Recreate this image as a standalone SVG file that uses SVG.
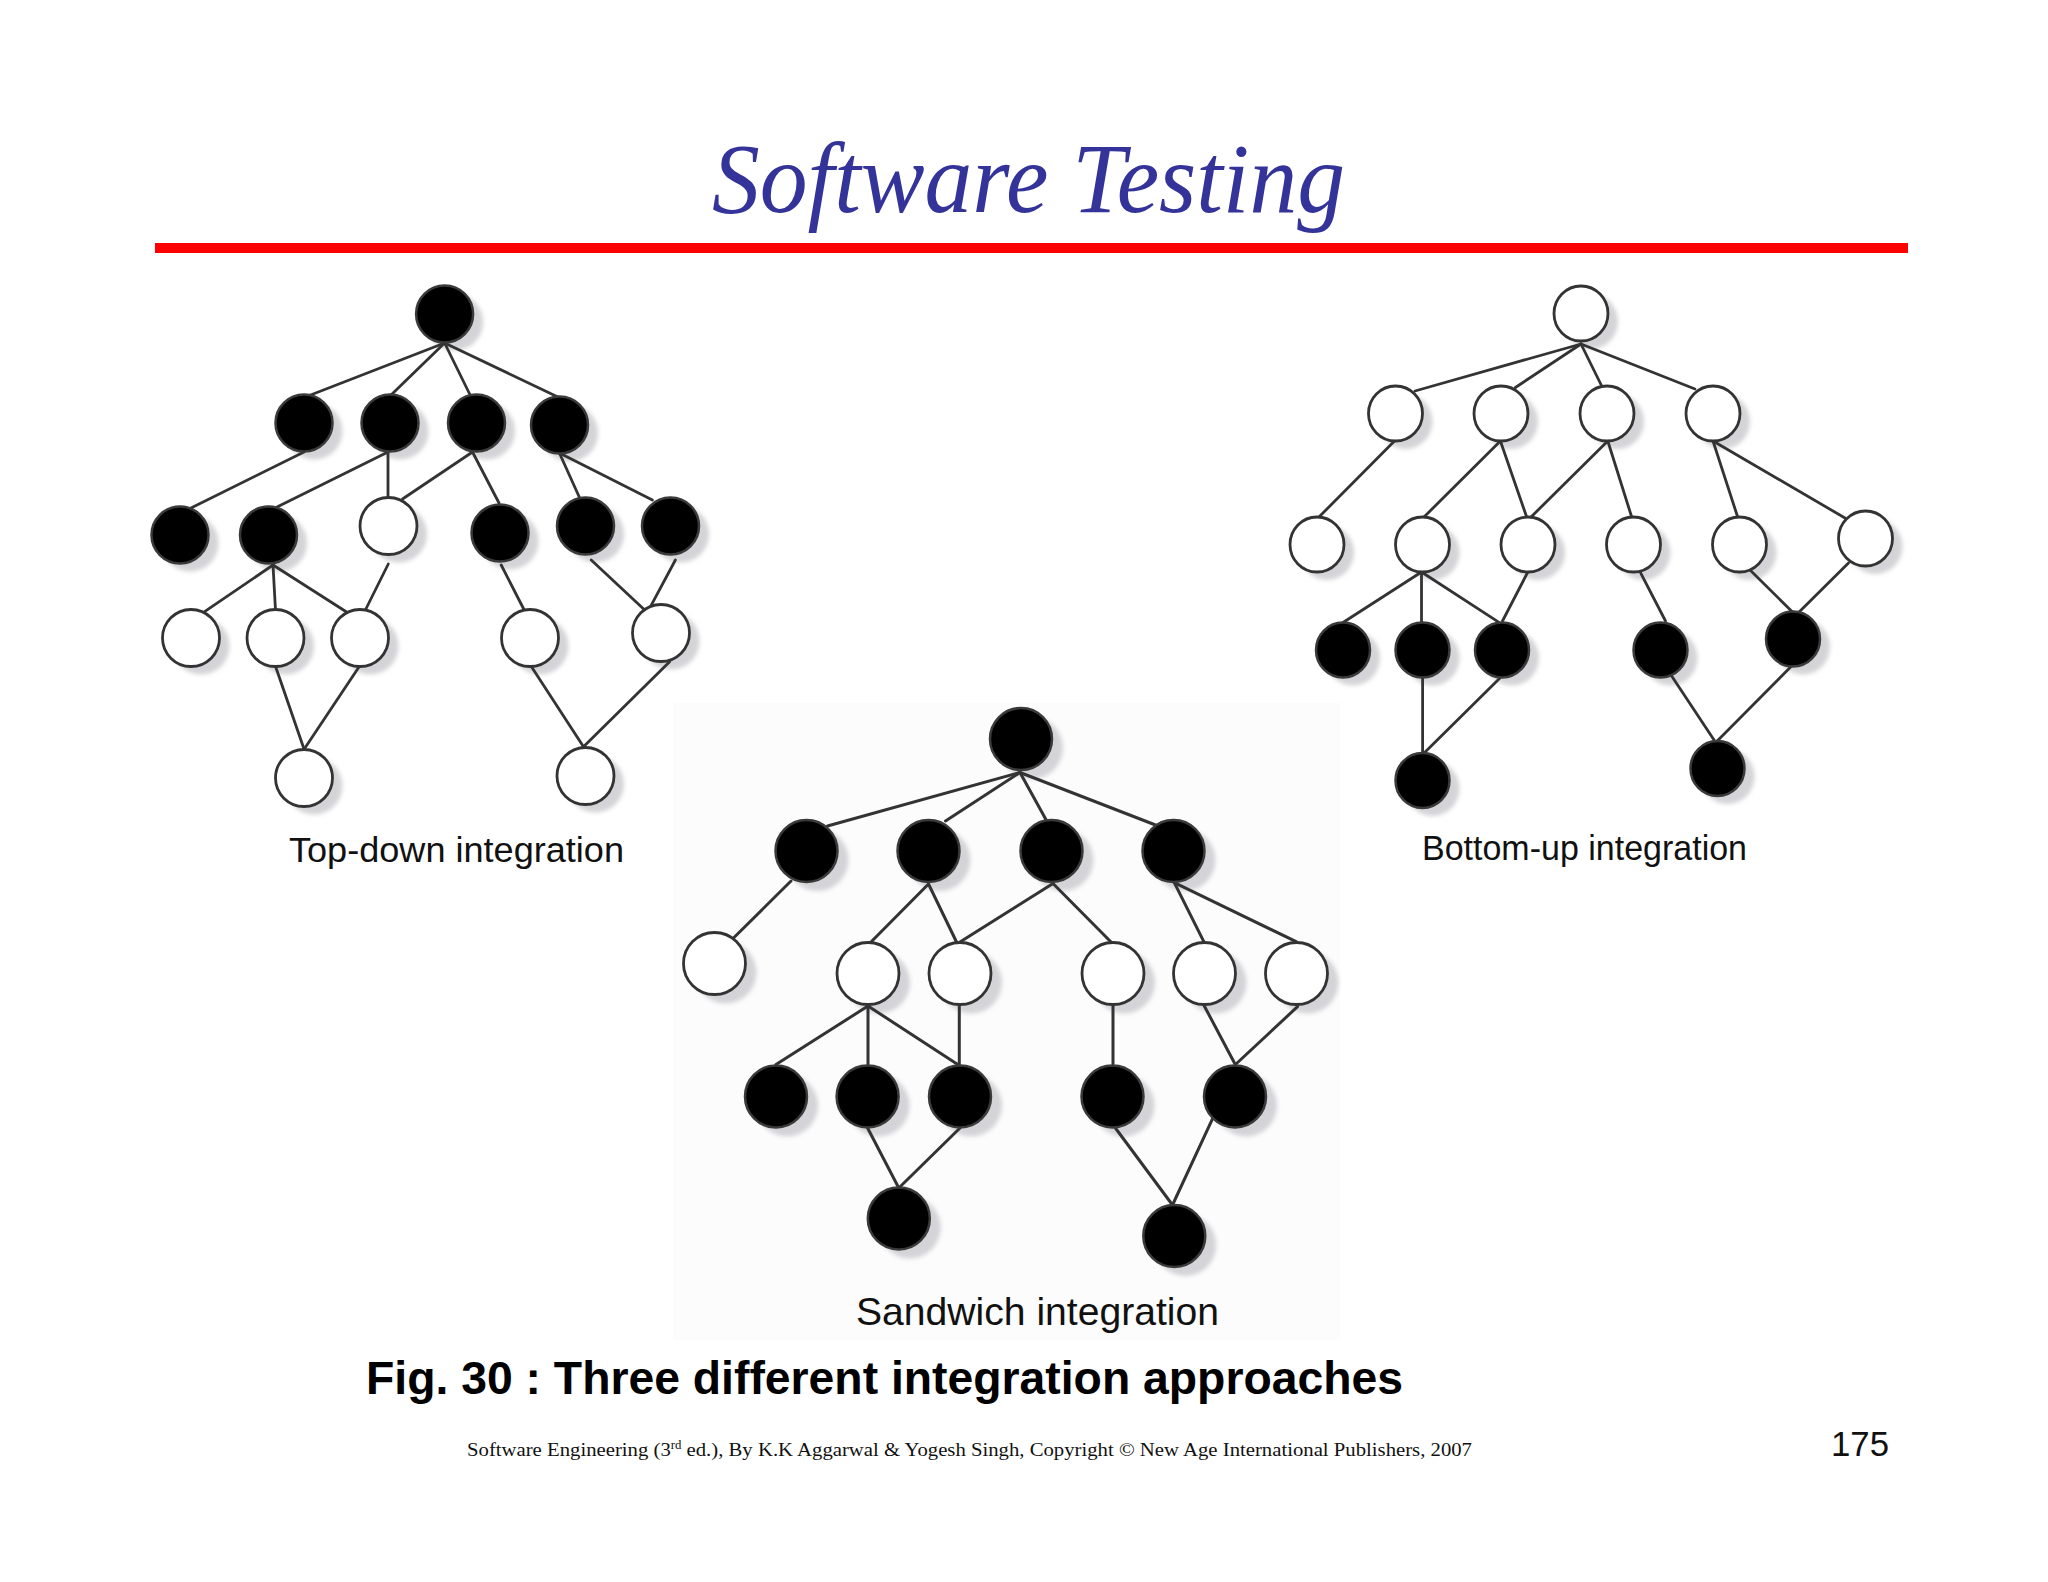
<svg xmlns="http://www.w3.org/2000/svg" width="2048" height="1582" viewBox="0 0 2048 1582">
<style>
.e{stroke:#333;stroke-width:2.8;fill:none;stroke-linecap:round}
.sw .e, .e.s{stroke-width:3}
.b{fill:#000;stroke:#3a3a3a;stroke-width:2.5}
.w{fill:#fff;stroke:#333;stroke-width:2.8}
.sh{fill:#d4d4d8;filter:url(#blur)}
.lbl{font-family:"Liberation Sans",Arial,sans-serif;fill:#111}
</style>
<defs>
<filter id="blur" x="-30%" y="-30%" width="160%" height="160%"><feGaussianBlur stdDeviation="2"/></filter>
</defs>
<rect width="2048" height="1582" fill="#fff"/>
<rect x="673" y="703" width="667" height="637" fill="#fcfcfd"/>

<text x="712" y="212" font-family="'Liberation Serif','DejaVu Serif',serif" font-style="italic" font-size="100" fill="#333399" textLength="633" lengthAdjust="spacingAndGlyphs">Software Testing</text>
<rect x="155" y="243" width="1753" height="10" fill="#ff0000"/>

<!-- shadows -->
<g id="shadows">
<g transform="translate(10,8)">
<ellipse class="sh" cx="444.6" cy="314" rx="28.5" ry="28.5"/>
<ellipse class="sh" cx="304" cy="423" rx="28.5" ry="28.5"/>
<ellipse class="sh" cx="390" cy="423" rx="28.5" ry="28.5"/>
<ellipse class="sh" cx="476.5" cy="423" rx="28.5" ry="28.5"/>
<ellipse class="sh" cx="559.5" cy="425" rx="28.5" ry="28.5"/>
<ellipse class="sh" cx="180" cy="535" rx="28.5" ry="28.5"/>
<ellipse class="sh" cx="268.5" cy="535" rx="28.5" ry="28.5"/>
<ellipse class="sh" cx="388.5" cy="526" rx="28.5" ry="28.5"/>
<ellipse class="sh" cx="500" cy="533" rx="28.5" ry="28.5"/>
<ellipse class="sh" cx="585.5" cy="526" rx="28.5" ry="28.5"/>
<ellipse class="sh" cx="670.5" cy="526" rx="28.5" ry="28.5"/>
<ellipse class="sh" cx="191" cy="638" rx="28.5" ry="28.5"/>
<ellipse class="sh" cx="275.5" cy="638" rx="28.5" ry="28.5"/>
<ellipse class="sh" cx="360" cy="638" rx="28.5" ry="28.5"/>
<ellipse class="sh" cx="530" cy="638" rx="28.5" ry="28.5"/>
<ellipse class="sh" cx="661" cy="633" rx="28.5" ry="28.5"/>
<ellipse class="sh" cx="304" cy="778" rx="28.5" ry="28.5"/>
<ellipse class="sh" cx="585.5" cy="776" rx="28.5" ry="28.5"/>

<ellipse class="sh" cx="1581" cy="313.5" rx="27" ry="27.5"/>
<ellipse class="sh" cx="1395.5" cy="413.5" rx="27" ry="27.5"/>
<ellipse class="sh" cx="1501" cy="413.5" rx="27" ry="27.5"/>
<ellipse class="sh" cx="1607" cy="413.5" rx="27" ry="27.5"/>
<ellipse class="sh" cx="1713" cy="413.5" rx="27" ry="27.5"/>
<ellipse class="sh" cx="1317" cy="544.5" rx="27" ry="27.5"/>
<ellipse class="sh" cx="1422.5" cy="544.5" rx="27" ry="27.5"/>
<ellipse class="sh" cx="1528" cy="544.5" rx="27" ry="27.5"/>
<ellipse class="sh" cx="1633.5" cy="544.5" rx="27" ry="27.5"/>
<ellipse class="sh" cx="1739.5" cy="544.5" rx="27" ry="27.5"/>
<ellipse class="sh" cx="1865.5" cy="538.5" rx="27" ry="27.5"/>
<ellipse class="sh" cx="1343" cy="650" rx="27" ry="27.5"/>
<ellipse class="sh" cx="1422.5" cy="650" rx="27" ry="27.5"/>
<ellipse class="sh" cx="1502" cy="650" rx="27" ry="27.5"/>
<ellipse class="sh" cx="1660.5" cy="650" rx="27" ry="27.5"/>
<ellipse class="sh" cx="1793" cy="639" rx="27" ry="27.5"/>
<ellipse class="sh" cx="1422.5" cy="780.5" rx="27" ry="27.5"/>
<ellipse class="sh" cx="1717.5" cy="768.5" rx="27" ry="27.5"/>
</g>
<g transform="translate(11,9)">
<ellipse class="sh" cx="1021" cy="739" rx="31" ry="31"/>
<ellipse class="sh" cx="806.5" cy="851" rx="31" ry="31"/>
<ellipse class="sh" cx="928.5" cy="851" rx="31" ry="31"/>
<ellipse class="sh" cx="1051.5" cy="851" rx="31" ry="31"/>
<ellipse class="sh" cx="1173.5" cy="851" rx="31" ry="31"/>
<ellipse class="sh" cx="714.5" cy="963.5" rx="31" ry="31"/>
<ellipse class="sh" cx="868" cy="973.5" rx="31" ry="31"/>
<ellipse class="sh" cx="960" cy="973.5" rx="31" ry="31"/>
<ellipse class="sh" cx="1113" cy="973.5" rx="31" ry="31"/>
<ellipse class="sh" cx="1204.5" cy="973.5" rx="31" ry="31"/>
<ellipse class="sh" cx="1296.5" cy="973.5" rx="31" ry="31"/>
<ellipse class="sh" cx="776" cy="1096.5" rx="31" ry="31"/>
<ellipse class="sh" cx="867.6" cy="1096.5" rx="31" ry="31"/>
<ellipse class="sh" cx="960" cy="1096.5" rx="31" ry="31"/>
<ellipse class="sh" cx="1112.5" cy="1096.5" rx="31" ry="31"/>
<ellipse class="sh" cx="1235" cy="1096.5" rx="31" ry="31"/>
<ellipse class="sh" cx="898.8" cy="1218.5" rx="31" ry="31"/>
<ellipse class="sh" cx="1174.3" cy="1236" rx="31" ry="31"/>
</g>
</g>

<!-- connectors -->
<g id="connectors">
<g id="td-edges">
<line class="e" x1="444.6" y1="343" x2="308" y2="396"/>
<line class="e" x1="444.6" y1="343" x2="390" y2="396"/>
<line class="e" x1="444.6" y1="343" x2="470.6" y2="396"/>
<line class="e" x1="444.6" y1="343" x2="557.9" y2="397"/>
<line class="e" x1="304" y1="452" x2="191" y2="508"/>
<line class="e" x1="388" y1="452" x2="277" y2="507"/>
<line class="e" x1="388" y1="452" x2="388" y2="498"/>
<line class="e" x1="472.5" y1="452" x2="402.5" y2="499"/>
<line class="e" x1="472.5" y1="452" x2="499" y2="503"/>
<line class="e" x1="559.4" y1="453" x2="579.7" y2="498"/>
<line class="e" x1="559.4" y1="453" x2="652.4" y2="500"/>
<line class="e" x1="273" y1="565" x2="204.6" y2="611.7"/>
<line class="e" x1="273" y1="565" x2="275.4" y2="608.3"/>
<line class="e" x1="273" y1="565" x2="346.2" y2="611.7"/>
<line class="e" x1="388.3" y1="564" x2="365.4" y2="610"/>
<line class="e" x1="501.2" y1="565" x2="524.2" y2="610"/>
<line class="e" x1="591.2" y1="560" x2="644.7" y2="610"/>
<line class="e" x1="675.4" y1="560" x2="650.5" y2="606.7"/>
<line class="e" x1="275.4" y1="666" x2="304.1" y2="749.3"/>
<line class="e" x1="359.6" y1="666" x2="304.1" y2="749.3"/>
<line class="e" x1="531" y1="666" x2="583.5" y2="746.7"/>
<line class="e" x1="669.6" y1="661.7" x2="583.5" y2="746.7"/>
</g>
<g id="bu-edges">
<line class="e" x1="1581" y1="344" x2="1415" y2="391"/>
<line class="e" x1="1581" y1="344" x2="1515.4" y2="387.5"/>
<line class="e" x1="1581" y1="344" x2="1601.7" y2="386"/>
<line class="e" x1="1581" y1="344" x2="1695" y2="389"/>
<line class="e" x1="1394.5" y1="441" x2="1318" y2="518"/>
<line class="e" x1="1500.4" y1="441" x2="1423" y2="518"/>
<line class="e" x1="1500.4" y1="441" x2="1527" y2="518"/>
<line class="e" x1="1607.8" y1="441" x2="1530" y2="518"/>
<line class="e" x1="1607.8" y1="441" x2="1632" y2="518"/>
<line class="e" x1="1713" y1="441" x2="1738" y2="518"/>
<line class="e" x1="1713" y1="441" x2="1845" y2="518"/>
<line class="e" x1="1421.5" y1="572" x2="1343.4" y2="622.3"/>
<line class="e" x1="1421.5" y1="572" x2="1421.5" y2="622.3"/>
<line class="e" x1="1421.5" y1="572" x2="1499" y2="622.3"/>
<line class="e" x1="1527.5" y1="572.7" x2="1502.5" y2="621"/>
<line class="e" x1="1640.5" y1="572.7" x2="1665.5" y2="621"/>
<line class="e" x1="1750" y1="570" x2="1793" y2="612.5"/>
<line class="e" x1="1848.5" y1="563" x2="1798.6" y2="612.5"/>
<line class="e" x1="1422.6" y1="678" x2="1422.6" y2="754.5"/>
<line class="e" x1="1500" y1="678" x2="1422.6" y2="754.5"/>
<line class="e" x1="1671" y1="675" x2="1715.7" y2="742.5"/>
<line class="e" x1="1791.6" y1="666" x2="1715.7" y2="742.5"/>
</g>
<g id="sw-edges">
<line class="e s" x1="1020" y1="772.5" x2="827.5" y2="826"/>
<line class="e s" x1="1020" y1="772.5" x2="945.5" y2="821"/>
<line class="e s" x1="1020" y1="772.5" x2="1046.2" y2="820"/>
<line class="e s" x1="1020" y1="772.5" x2="1155.5" y2="825"/>
<line class="e s" x1="791" y1="881" x2="734" y2="937.5"/>
<line class="e s" x1="928.5" y1="884" x2="870" y2="943"/>
<line class="e s" x1="928.5" y1="884" x2="957" y2="943"/>
<line class="e s" x1="1053" y1="883.5" x2="960" y2="942"/>
<line class="e s" x1="1053" y1="883.5" x2="1111" y2="942"/>
<line class="e s" x1="1174.3" y1="882.7" x2="1203.8" y2="941.7"/>
<line class="e s" x1="1174.3" y1="882.7" x2="1296.2" y2="941.7"/>
<line class="e s" x1="868" y1="1006" x2="776" y2="1064.5"/>
<line class="e s" x1="868" y1="1006" x2="868" y2="1064"/>
<line class="e s" x1="868" y1="1006" x2="957" y2="1064"/>
<line class="e s" x1="959.3" y1="1005" x2="959.3" y2="1064"/>
<line class="e s" x1="1113" y1="1004" x2="1113" y2="1064"/>
<line class="e s" x1="1203.8" y1="1005" x2="1235" y2="1064"/>
<line class="e s" x1="1297.5" y1="1006.7" x2="1236" y2="1064"/>
<line class="e s" x1="867.6" y1="1128" x2="898.8" y2="1188"/>
<line class="e s" x1="960" y1="1128" x2="898.8" y2="1188"/>
<line class="e s" x1="1115.4" y1="1128" x2="1172.5" y2="1205"/>
<line class="e s" x1="1212.7" y1="1118.3" x2="1172.5" y2="1205"/>
</g>
</g>

<!-- Top-down nodes -->
<g id="td-root"><ellipse class="b" cx="444.6" cy="314" rx="28.5" ry="28.5"/></g>
<g id="td-a1"><ellipse class="b" cx="304" cy="423" rx="28.5" ry="28.5"/></g>
<g id="td-a2"><ellipse class="b" cx="390" cy="423" rx="28.5" ry="28.5"/></g>
<g id="td-a3"><ellipse class="b" cx="476.5" cy="423" rx="28.5" ry="28.5"/></g>
<g id="td-a4"><ellipse class="b" cx="559.5" cy="425" rx="28.5" ry="28.5"/></g>
<g id="td-b1"><ellipse class="b" cx="180" cy="535" rx="28.5" ry="28.5"/></g>
<g id="td-b2"><ellipse class="b" cx="268.5" cy="535" rx="28.5" ry="28.5"/></g>
<g id="td-b3"><ellipse class="w" cx="388.5" cy="526" rx="28.5" ry="28.5"/></g>
<g id="td-b4"><ellipse class="b" cx="500" cy="533" rx="28.5" ry="28.5"/></g>
<g id="td-b5"><ellipse class="b" cx="585.5" cy="526" rx="28.5" ry="28.5"/></g>
<g id="td-b6"><ellipse class="b" cx="670.5" cy="526" rx="28.5" ry="28.5"/></g>
<g id="td-c1"><ellipse class="w" cx="191" cy="638" rx="28.5" ry="28.5"/></g>
<g id="td-c2"><ellipse class="w" cx="275.5" cy="638" rx="28.5" ry="28.5"/></g>
<g id="td-c3"><ellipse class="w" cx="360" cy="638" rx="28.5" ry="28.5"/></g>
<g id="td-c4"><ellipse class="w" cx="530" cy="638" rx="28.5" ry="28.5"/></g>
<g id="td-c5"><ellipse class="w" cx="661" cy="633" rx="28.5" ry="28.5"/></g>
<g id="td-d1"><ellipse class="w" cx="304" cy="778" rx="28.5" ry="28.5"/></g>
<g id="td-d2"><ellipse class="w" cx="585.5" cy="776" rx="28.5" ry="28.5"/></g>
<text class="lbl" x="289" y="862" font-size="35.5" textLength="335" lengthAdjust="spacingAndGlyphs">Top-down integration</text>

<!-- Bottom-up nodes -->
<g id="bu-root"><ellipse class="w" cx="1581" cy="313.5" rx="27" ry="27.5"/></g>
<g id="bu-a1"><ellipse class="w" cx="1395.5" cy="413.5" rx="27" ry="27.5"/></g>
<g id="bu-a2"><ellipse class="w" cx="1501" cy="413.5" rx="27" ry="27.5"/></g>
<g id="bu-a3"><ellipse class="w" cx="1607" cy="413.5" rx="27" ry="27.5"/></g>
<g id="bu-a4"><ellipse class="w" cx="1713" cy="413.5" rx="27" ry="27.5"/></g>
<g id="bu-b1"><ellipse class="w" cx="1317" cy="544.5" rx="27" ry="27.5"/></g>
<g id="bu-b2"><ellipse class="w" cx="1422.5" cy="544.5" rx="27" ry="27.5"/></g>
<g id="bu-b3"><ellipse class="w" cx="1528" cy="544.5" rx="27" ry="27.5"/></g>
<g id="bu-b4"><ellipse class="w" cx="1633.5" cy="544.5" rx="27" ry="27.5"/></g>
<g id="bu-b5"><ellipse class="w" cx="1739.5" cy="544.5" rx="27" ry="27.5"/></g>
<g id="bu-b6"><ellipse class="w" cx="1865.5" cy="538.5" rx="27" ry="27.5"/></g>
<g id="bu-c1"><ellipse class="b" cx="1343" cy="650" rx="27" ry="27.5"/></g>
<g id="bu-c2"><ellipse class="b" cx="1422.5" cy="650" rx="27" ry="27.5"/></g>
<g id="bu-c3"><ellipse class="b" cx="1502" cy="650" rx="27" ry="27.5"/></g>
<g id="bu-c4"><ellipse class="b" cx="1660.5" cy="650" rx="27" ry="27.5"/></g>
<g id="bu-c5"><ellipse class="b" cx="1793" cy="639" rx="27" ry="27.5"/></g>
<g id="bu-d1"><ellipse class="b" cx="1422.5" cy="780.5" rx="27" ry="27.5"/></g>
<g id="bu-d2"><ellipse class="b" cx="1717.5" cy="768.5" rx="27" ry="27.5"/></g>
<text class="lbl" x="1422" y="860" font-size="35" textLength="325" lengthAdjust="spacingAndGlyphs">Bottom-up integration</text>

<!-- Sandwich nodes -->
<g id="sw-root"><ellipse class="b" cx="1021" cy="739" rx="31" ry="31"/></g>
<g id="sw-a1"><ellipse class="b" cx="806.5" cy="851" rx="31" ry="31"/></g>
<g id="sw-a2"><ellipse class="b" cx="928.5" cy="851" rx="31" ry="31"/></g>
<g id="sw-a3"><ellipse class="b" cx="1051.5" cy="851" rx="31" ry="31"/></g>
<g id="sw-a4"><ellipse class="b" cx="1173.5" cy="851" rx="31" ry="31"/></g>
<g id="sw-b1"><ellipse class="w" cx="714.5" cy="963.5" rx="31" ry="31"/></g>
<g id="sw-b2"><ellipse class="w" cx="868" cy="973.5" rx="31" ry="31"/></g>
<g id="sw-b3"><ellipse class="w" cx="960" cy="973.5" rx="31" ry="31"/></g>
<g id="sw-b4"><ellipse class="w" cx="1113" cy="973.5" rx="31" ry="31"/></g>
<g id="sw-b5"><ellipse class="w" cx="1204.5" cy="973.5" rx="31" ry="31"/></g>
<g id="sw-b6"><ellipse class="w" cx="1296.5" cy="973.5" rx="31" ry="31"/></g>
<g id="sw-c1"><ellipse class="b" cx="776" cy="1096.5" rx="31" ry="31"/></g>
<g id="sw-c2"><ellipse class="b" cx="867.6" cy="1096.5" rx="31" ry="31"/></g>
<g id="sw-c3"><ellipse class="b" cx="960" cy="1096.5" rx="31" ry="31"/></g>
<g id="sw-c4"><ellipse class="b" cx="1112.5" cy="1096.5" rx="31" ry="31"/></g>
<g id="sw-c5"><ellipse class="b" cx="1235" cy="1096.5" rx="31" ry="31"/></g>
<g id="sw-d1"><ellipse class="b" cx="898.8" cy="1218.5" rx="31" ry="31"/></g>
<g id="sw-d2"><ellipse class="b" cx="1174.3" cy="1236" rx="31" ry="31"/></g>
<text class="lbl" x="856" y="1325" font-size="39" textLength="363" lengthAdjust="spacingAndGlyphs">Sandwich integration</text>

<text x="366" y="1394" font-family="'Liberation Sans',Arial,sans-serif" font-weight="bold" font-size="46" fill="#000" textLength="1037" lengthAdjust="spacingAndGlyphs">Fig. 30 : Three different integration approaches</text>
<text x="467" y="1456" font-family="'Liberation Serif','Times New Roman',serif" font-size="19.5" fill="#111" textLength="1005" lengthAdjust="spacingAndGlyphs">Software Engineering (3<tspan font-size="12" dy="-7">rd</tspan><tspan dy="7"> ed.), By K.K Aggarwal &amp; Yogesh Singh, Copyright © New Age International Publishers, 2007</tspan></text>
<text x="1831" y="1456" font-family="'Liberation Sans',Arial,sans-serif" font-size="35" fill="#111" textLength="58" lengthAdjust="spacingAndGlyphs">175</text>
</svg>
